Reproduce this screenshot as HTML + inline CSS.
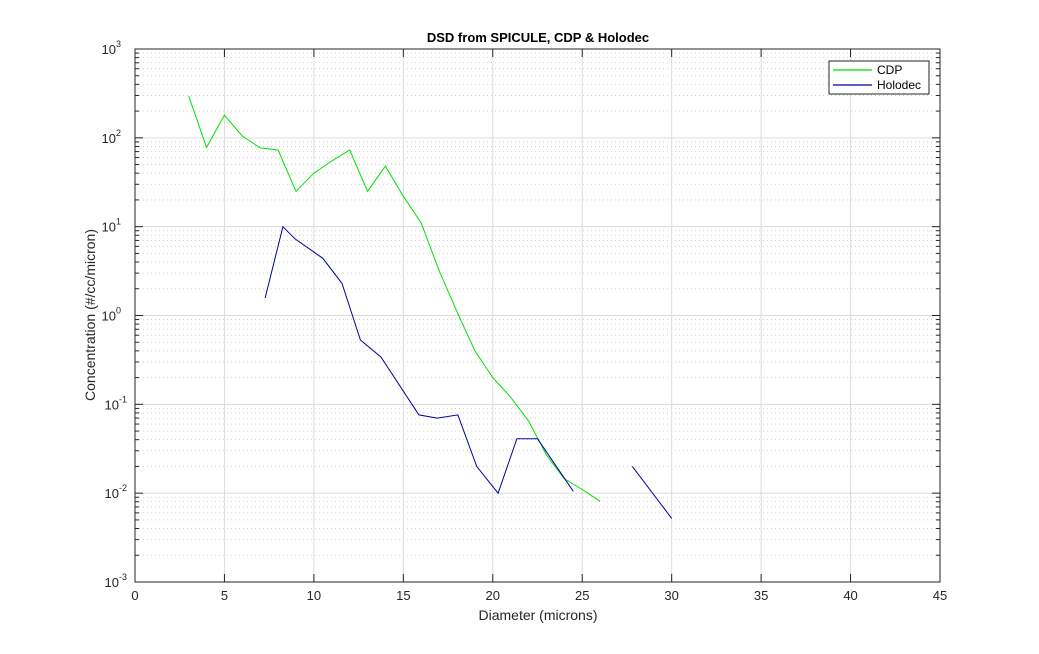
<!DOCTYPE html>
<html><head><meta charset="utf-8"><style>
body{margin:0;background:#fff;}
svg{display:block;font-family:"Liberation Sans","DejaVu Sans",sans-serif;}
</style></head><body>
<svg id="chart" width="1039" height="654" viewBox="0 0 1039 654" xmlns="http://www.w3.org/2000/svg">
<rect x="0" y="0" width="1039" height="654" fill="#fff"/>
<g id="grid"></g>
<g id="series"></g>
<rect x="135" y="49" width="805" height="533" fill="none" stroke="#262626" stroke-width="1"/>
<g id="ticks"></g>
<text x="538" y="42" text-anchor="middle" font-size="13" font-weight="bold" fill="#000">DSD from SPICULE, CDP &amp; Holodec</text>
<text x="538" y="620" text-anchor="middle" font-size="14" fill="#262626">Diameter (microns)</text>
<text transform="translate(95,315) rotate(-90)" text-anchor="middle" font-size="14" fill="#262626">Concentration (#/cc/micron)</text>
<g>
<rect x="829" y="61" width="100" height="33" fill="#fff" stroke="#262626"/>
<line x1="833" y1="70" x2="872" y2="70" stroke="#00e000" stroke-width="1.3"/>
<text x="877" y="74" font-size="12" fill="#000">CDP</text>
<line x1="833" y1="85" x2="872" y2="85" stroke="#0000a0" stroke-width="1.3"/>
<text x="877" y="89" font-size="12" fill="#000">Holodec</text>
</g>
</svg>
<script>
const xTicks=[0,5,10,15,20,25,30,35,40,45];
const yExps=[-3,-2,-1,0,1,2,3];
const cdpX=[3,4,5,6,7,8,9,10,11,12,13,14,15,16,17,18,19,20,21,22,23,24,25,26];
const cdpY=[295,78,180,105,77,73,25,40,55,73,25,48,22,11,3.2,1.1,0.4,0.2,0.12,0.065,0.027,0.0145,0.011,0.0081];
const holoX=[7.27,8.27,8.94,10.5,11.57,12.6,13.75,15.87,16.9,18.05,19.1,20.3,21.35,22.5,24.5];
const holoY=[1.57,10,7.3,4.4,2.3,0.53,0.34,0.076,0.07,0.076,0.02,0.01,0.041,0.041,0.0105];
const holo2X=[27.8,30];
const holo2Y=[0.02,0.0052];
const L=135,R=940,T=49,B=582;
const NS='http://www.w3.org/2000/svg';
function xs(v){return L+(v-0)/(45-0)*(R-L);}
function ys(v){const e=Math.log10(v);return T+(3-e)/6*(B-T);}
function mk(tag,attrs,parent){const e=document.createElementNS(NS,tag);for(const k in attrs)e.setAttribute(k,attrs[k]);parent.appendChild(e);return e;}
const grid=document.getElementById('grid'),ticks=document.getElementById('ticks'),ser=document.getElementById('series');
for(let e=-3;e<3;e++){for(let m=2;m<=9;m++){const y=ys(m*Math.pow(10,e));
const ln=mk('line',{x1:L,x2:R,y1:y,y2:y,stroke:'#c8c8c8','stroke-width':0.8,'stroke-dasharray':'1 3'},grid);


const t1=mk('line',{x1:L,x2:L+4,y1:y,y2:y,stroke:'#262626'},ticks);


const t2=mk('line',{x1:R-4,x2:R,y1:y,y2:y,stroke:'#262626'},ticks);

}}
yExps.forEach(e=>{const y=ys(Math.pow(10,e));
const ln=mk('line',{x1:L,x2:R,y1:y,y2:y,stroke:'#dcdcdc','stroke-width':1},grid);


const t1=mk('line',{x1:L,x2:L+8,y1:y,y2:y,stroke:'#262626'},ticks);


const t2=mk('line',{x1:R-8,x2:R,y1:y,y2:y,stroke:'#262626'},ticks);


const tx=mk('text',{x:127,y:y+5,'text-anchor':'end','font-size':13,fill:'#262626'},ticks);


tx.textContent='10';
const sp=mk('tspan',{dy:-7,'font-size':9},tx);sp.textContent=String(e);
if(e>=0){tx.setAttribute('x',121);}
});
xTicks.forEach(v=>{const x=xs(v);
const ln=mk('line',{x1:x,x2:x,y1:T,y2:B,stroke:'#dcdcdc','stroke-width':1},grid);


const t1=mk('line',{x1:x,x2:x,y1:B-8,y2:B,stroke:'#262626'},ticks);


const t2=mk('line',{x1:x,x2:x,y1:T,y2:T+8,stroke:'#262626'},ticks);


const tx=mk('text',{x:x,y:B+18,'text-anchor':'middle','font-size':13,fill:'#262626'},ticks);


tx.textContent=String(v);});
function line(X,Y,color,name){const p=X.map((x,i)=>xs(x).toFixed(1)+','+ys(Y[i]).toFixed(1)).join(' ');
const pl=mk('polyline',{points:p,fill:'none',stroke:color,'stroke-width':1},ser);

}
line(cdpX,cdpY,'#00e000','cdp-line');
line(holoX,holoY,'#0000a0','holodec-line');
line(holo2X,holo2Y,'#0000a0','holodec-line-segment-2');
</script>
</body></html>
